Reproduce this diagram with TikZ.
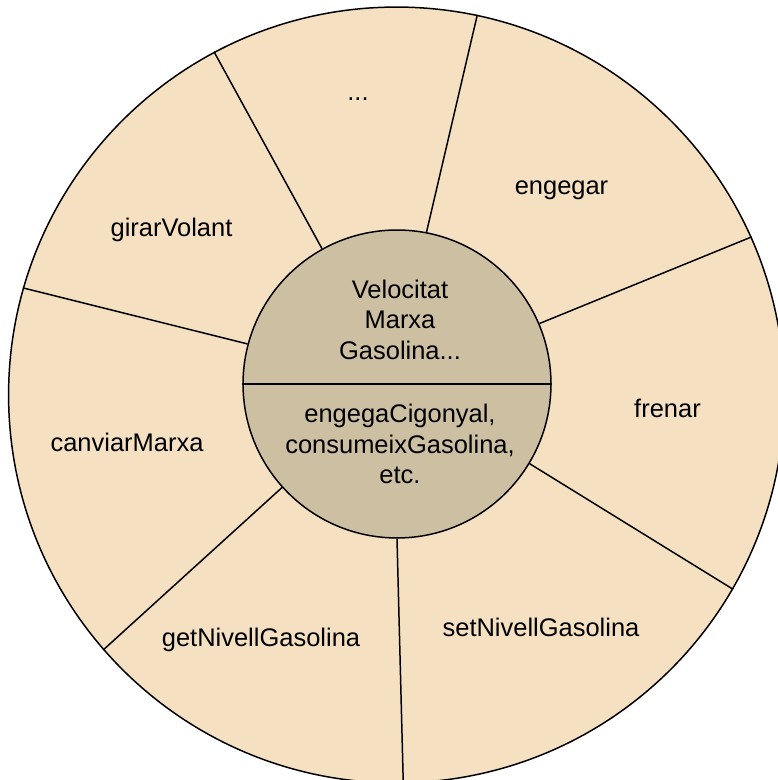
\documentclass[tikz,border=0pt]{standalone}
\usepackage{fontspec}
\setmainfont{Liberation Sans}
\definecolor{wheelfill}{RGB}{245,225,193}
\definecolor{corefill}{RGB}{205,191,161}
\tikzset{
    ring/.style={circle, draw, line width=0.85pt, inner sep=0pt},
    methodtext/.style={anchor=base, font=\fontsize{14.5pt}{17.4pt}\selectfont},
    coretext/.style={align=center, font=\fontsize{14.5pt}{17.4pt}\selectfont}
}
\begin{document}
\begin{tikzpicture}[x=0.02cm, y=0.02cm]
        \useasboundingbox (0,0) rectangle (777,780);

        % Outer wheel
        \node[ring, fill=wheelfill, minimum size=15.52cm] (wheel) at (396.5,385) {};

        % Core of the object
        \node[ring, fill=corefill, minimum size=6.16cm] (core) at (397,396) {};

        % Spokes between the methods
        \foreach \c/\w in {119.1/118.5, 79.2/78.8, 23.4/24.8, -31.7/-30.4, -90/-89.6, 222.3/221.5, 165.1/164.1} {
            \draw[line width=0.85pt] (core.\c) -- (wheel.\w);
        }

        % Attributes and private methods
        \draw[line width=0.85pt] (core.west) -- (core.east);
        \node[coretext] (attrs) at (400,460.5) {Velocitat\\Marxa\\Gasolina...};
        \node[coretext] (inner) at (400,336) {engegaCigonyal,\\consumeixGasolina,\\etc.};

        % Public methods
        \node[methodtext] (more) at (358,679.3) {...};
        \node[methodtext] (start) at (561.5,585.3) {engegar};
        \node[methodtext] (steer) at (171.5,543.3) {girarVolant};
        \node[methodtext] (brake) at (667.5,362) {frenar};
        \node[methodtext] (gear) at (127,328) {canviarMarxa};
        \node[methodtext] (getfuel) at (261,133) {getNivellGasolina};
        \node[methodtext] (setfuel) at (541,143) {setNivellGasolina};
    \end{tikzpicture}
\end{document}
